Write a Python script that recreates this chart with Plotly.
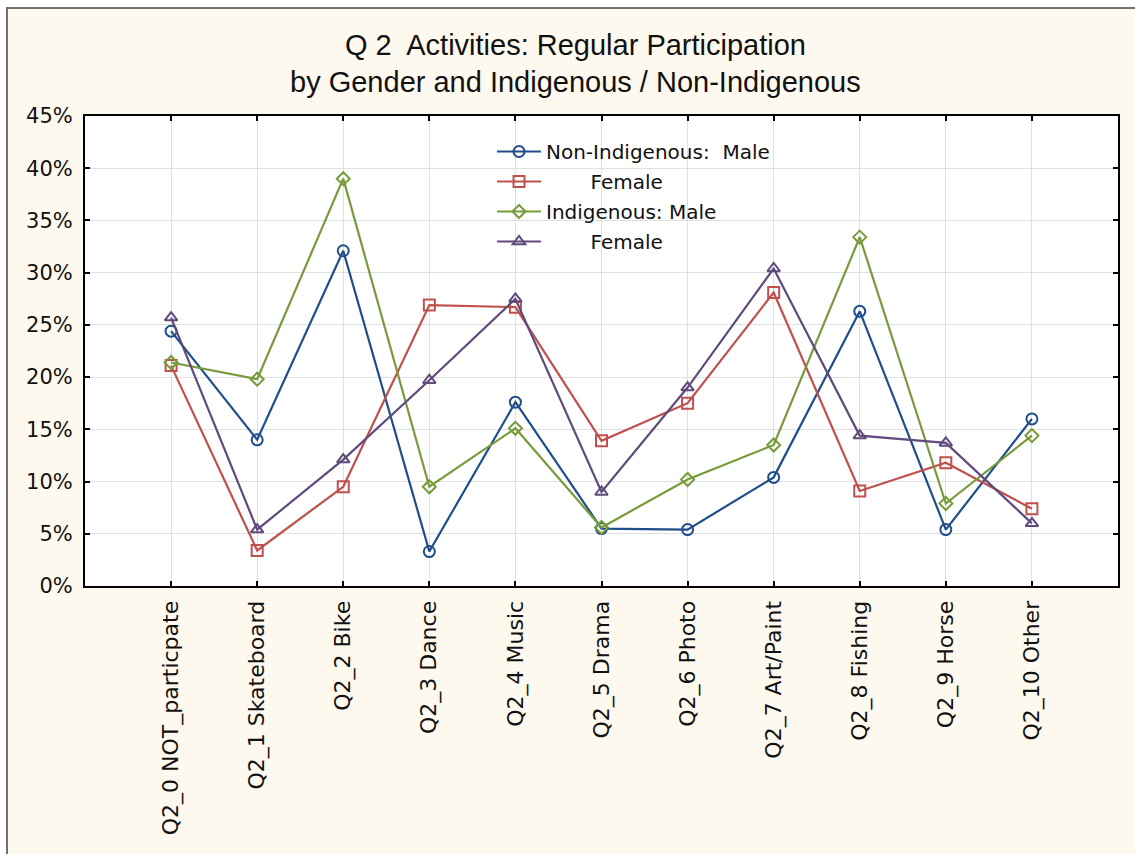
import plotly.graph_objects as go

categories = ["Q2_0 NOT_particpate", "Q2_1 Skateboard", "Q2_2 Bike", "Q2_3 Dance",
              "Q2_4 Music", "Q2_5 Drama", "Q2_6 Photo", "Q2_7 Art/Paint",
              "Q2_8 Fishing", "Q2_9 Horse", "Q2_10 Other"]

non_ind_male = [24.4, 14.0, 32.1, 3.3, 17.6, 5.5, 5.4, 10.4, 26.3, 5.4, 16.0]
non_ind_female = [21.1, 3.4, 9.5, 26.9, 26.7, 13.9, 17.5, 28.1, 9.1, 11.8, 7.4]
ind_male = [21.4, 19.8, 39.0, 9.5, 15.1, 5.6, 10.2, 13.5, 33.4, 7.9, 14.4]
ind_female = [25.7, 5.4, 12.1, 19.7, 27.5, 9.0, 19.0, 30.4, 14.4, 13.7, 6.0]

series_names = ["Non-Indigenous:\u00a0\u00a0Male", "\u00a0" * 7 + "Female",
                "Indigenous: Male", "\u00a0" * 7 + "Female"]
series_values = [non_ind_male, non_ind_female, ind_male, ind_female]
colors = ["#1F4E8A", "#C0504D", "#779B3B", "#604A7B"]
symbols = ["circle-open", "square-open", "diamond-open", "triangle-up-open"]
msizes = [11, 11, 10, 11]

y_tickvals = [0, 5, 10, 15, 20, 25, 30, 35, 40, 45]
y_ticklabels = ["0%", "5%", "10%", "15%", "20%", "25%", "30%", "35%", "40%", "45%"]

fig = go.Figure()
for i, (name, vals) in enumerate(zip(series_names, series_values)):
    fig.add_trace(go.Scatter(
        x=categories, y=vals, name=name, mode="lines+markers",
        line=dict(color=colors[i], width=2.2),
        marker=dict(symbol=symbols[i], size=msizes[i], color=colors[i],
                    line=dict(color=colors[i], width=2)),
        legendgroup=str(i),
    ))

W, H = 1135, 854
L, R, T, B = 85, 1118, 116, 586
pw, ph = R - L, B - T

def px(x):
    return (x - L) / pw

def py(y):
    return (B - y) / ph

fig.update_layout(
    width=W, height=H,
    margin=dict(l=L, r=W - R, t=T, b=H - B),
    paper_bgcolor="white",
    plot_bgcolor="white",
    showlegend=True,
    legend=dict(
        x=px(492), y=py(132), xanchor="left", yanchor="top",
        bgcolor="rgba(0,0,0,0)", borderwidth=0,
        font=dict(family="DejaVu Sans", size=20, color="#111111"),
        traceorder="grouped", tracegroupgap=1,
        itemwidth=44,
    ),
    shapes=[
        dict(type="rect", xref="paper", yref="paper",
             x0=px(7), x1=px(1200), y0=py(900), y1=py(8),
             fillcolor="#FEF9EF", line=dict(color="#707070", width=2),
             layer="below"),
        dict(type="rect", xref="paper", yref="paper",
             x0=0, x1=1, y0=0, y1=1,
             fillcolor="white", line=dict(width=0), layer="below"),
    ],
    annotations=[
        dict(text="Q 2  Activities: Regular Participation", xref="paper", yref="paper",
             x=px(575), y=py(45), xanchor="center", yanchor="middle", showarrow=False,
             font=dict(family="Liberation Sans", size=29, color="#111111")),
        dict(text="by Gender and Indigenous / Non-Indigenous", xref="paper", yref="paper",
             x=px(575), y=py(82), xanchor="center", yanchor="middle", showarrow=False,
             font=dict(family="Liberation Sans", size=29, color="#111111")),
    ],
)

fig.update_xaxes(
    range=[-1, 11],
    showline=True, linewidth=2, linecolor="black", mirror="ticks",
    ticks="inside", ticklen=5, tickwidth=2, tickcolor="black",
    showgrid=True, gridcolor="#E0E0E0", gridwidth=1,
    tickangle=-90, ticklabelstandoff=4,
    tickfont=dict(family="DejaVu Sans", size=22, color="#111111"),
    zeroline=False,
)
fig.update_yaxes(
    range=[0, 45], tickmode="array", tickvals=y_tickvals, ticktext=y_ticklabels,
    showline=True, linewidth=2, linecolor="black", mirror="ticks",
    ticks="inside", ticklen=5, tickwidth=2, tickcolor="black",
    showgrid=True, gridcolor="#E0E0E0", gridwidth=1,
    ticklabelstandoff=6,
    tickfont=dict(family="DejaVu Sans", size=21, color="#111111"),
    zeroline=False,
)

fig.write_html("out.html", config={"displayModeBar": False},
               post_script="document.body.style.margin='0';")
